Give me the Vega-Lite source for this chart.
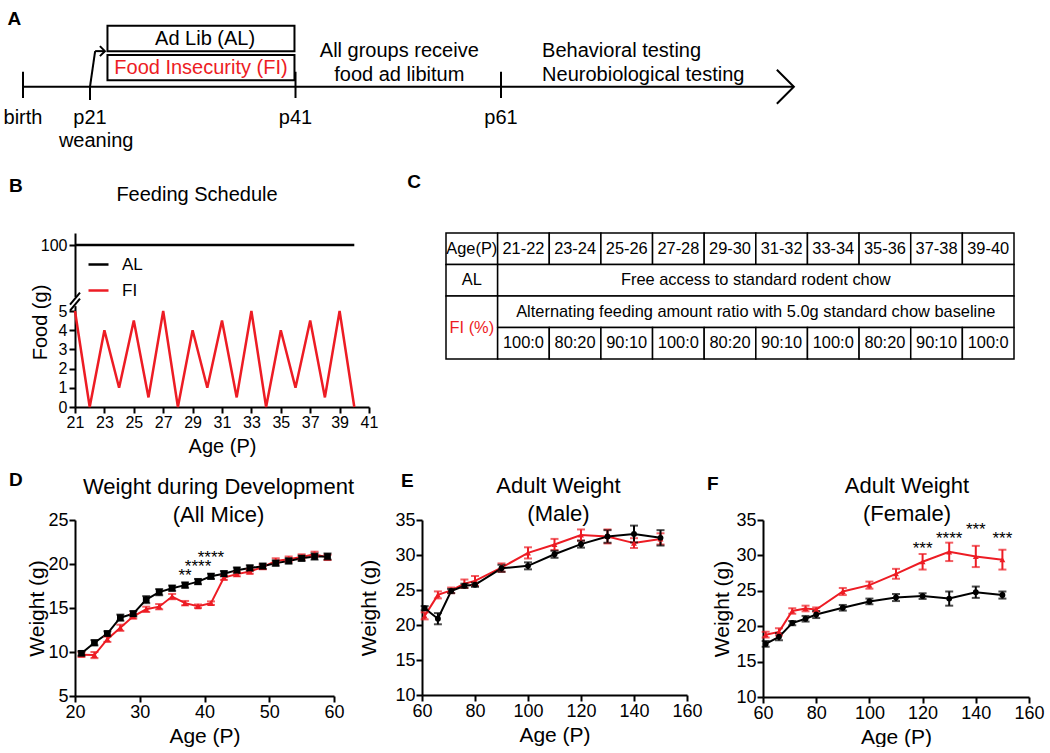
{
"$schema":"https://vega.github.io/schema/vega-lite/v6.json",
"padding":{"left":3,"top":8,"right":0,"bottom":0},
"background":"white",
"config":{
 "font":"Liberation Sans",
 "view":{"stroke":null},
 "axis":{"domainColor":"#000","domainWidth":2,"tickColor":"#000","tickWidth":2,"tickSize":6,"labelColor":"#000","titleColor":"#000","labelFontSize":18,"titleFontSize":21,"titleFontWeight":"normal","grid":false,"labelPadding":1,"titlePadding":0,"labelFont":"Liberation Sans","titleFont":"Liberation Sans","labelFlush":false,"labelOverlap":false},
 "title":{"fontSize":22,"fontWeight":"normal","color":"#000","font":"Liberation Sans"},
 "text":{"font":"Liberation Sans","color":"#000"}
},
"resolve":{"scale":{"color":"independent","shape":"independent"},"legend":{"color":"independent","shape":"independent"}},
"datasets":{
 "feeding":[
  {"day":21,"food":100,"group":"AL"},{"day":40,"food":100,"group":"AL"},
  {"day":21,"food":5,"group":"FI"},{"day":22,"food":0,"group":"FI"},{"day":23,"food":4,"group":"FI"},{"day":24,"food":1,"group":"FI"},{"day":25,"food":4.5,"group":"FI"},{"day":26,"food":0.5,"group":"FI"},{"day":27,"food":5,"group":"FI"},{"day":28,"food":0,"group":"FI"},{"day":29,"food":4,"group":"FI"},{"day":30,"food":1,"group":"FI"},{"day":31,"food":4.5,"group":"FI"},{"day":32,"food":0.5,"group":"FI"},{"day":33,"food":5,"group":"FI"},{"day":34,"food":0,"group":"FI"},{"day":35,"food":4,"group":"FI"},{"day":36,"food":1,"group":"FI"},{"day":37,"food":4.5,"group":"FI"},{"day":38,"food":0.5,"group":"FI"},{"day":39,"food":5,"group":"FI"},{"day":40,"food":0,"group":"FI"}
 ],
 "ticksA":[{"age":0,"label":"birth"},{"age":21,"label":"p21"},{"age":41,"label":"p41"},{"age":61,"label":"p61"}],
 "table":[
  {"c0":0,"c1":1,"r0":0,"r1":1,"text":"Age(P)","kind":"std"},
  {"c0":1,"c1":2,"r0":0,"r1":1,"text":"21-22","kind":"std"},
  {"c0":2,"c1":3,"r0":0,"r1":1,"text":"23-24","kind":"std"},
  {"c0":3,"c1":4,"r0":0,"r1":1,"text":"25-26","kind":"std"},
  {"c0":4,"c1":5,"r0":0,"r1":1,"text":"27-28","kind":"std"},
  {"c0":5,"c1":6,"r0":0,"r1":1,"text":"29-30","kind":"std"},
  {"c0":6,"c1":7,"r0":0,"r1":1,"text":"31-32","kind":"std"},
  {"c0":7,"c1":8,"r0":0,"r1":1,"text":"33-34","kind":"std"},
  {"c0":8,"c1":9,"r0":0,"r1":1,"text":"35-36","kind":"std"},
  {"c0":9,"c1":10,"r0":0,"r1":1,"text":"37-38","kind":"std"},
  {"c0":10,"c1":11,"r0":0,"r1":1,"text":"39-40","kind":"std"},
  {"c0":0,"c1":1,"r0":1,"r1":2,"text":"AL","kind":"std"},
  {"c0":1,"c1":11,"r0":1,"r1":2,"text":"Free access to standard rodent chow","kind":"std"},
  {"c0":0,"c1":1,"r0":2,"r1":4,"text":"FI (%)","kind":"FI"},
  {"c0":1,"c1":11,"r0":2,"r1":3,"text":"Alternating feeding amount ratio with 5.0g standard chow baseline","kind":"std"},
  {"c0":1,"c1":2,"r0":3,"r1":4,"text":"100:0","kind":"std"},
  {"c0":2,"c1":3,"r0":3,"r1":4,"text":"80:20","kind":"std"},
  {"c0":3,"c1":4,"r0":3,"r1":4,"text":"90:10","kind":"std"},
  {"c0":4,"c1":5,"r0":3,"r1":4,"text":"100:0","kind":"std"},
  {"c0":5,"c1":6,"r0":3,"r1":4,"text":"80:20","kind":"std"},
  {"c0":6,"c1":7,"r0":3,"r1":4,"text":"90:10","kind":"std"},
  {"c0":7,"c1":8,"r0":3,"r1":4,"text":"100:0","kind":"std"},
  {"c0":8,"c1":9,"r0":3,"r1":4,"text":"80:20","kind":"std"},
  {"c0":9,"c1":10,"r0":3,"r1":4,"text":"90:10","kind":"std"},
  {"c0":10,"c1":11,"r0":3,"r1":4,"text":"100:0","kind":"std"}
 ],
 "devel":[
  {"age":21,"group":"FI","w":9.7,"sem":0.25},{"age":23,"group":"FI","w":9.65,"sem":0.35},{"age":25,"group":"FI","w":11.45,"sem":0.3},{"age":27,"group":"FI","w":12.75,"sem":0.35},{"age":29,"group":"FI","w":14.05,"sem":0.25},{"age":31,"group":"FI","w":14.85,"sem":0.3},{"age":33,"group":"FI","w":15.15,"sem":0.3},{"age":35,"group":"FI","w":16.3,"sem":0.3},{"age":37,"group":"FI","w":15.55,"sem":0.25},{"age":39,"group":"FI","w":15.2,"sem":0.2},{"age":41,"group":"FI","w":15.55,"sem":0.2},{"age":43,"group":"FI","w":18.45,"sem":0.25},{"age":45,"group":"FI","w":18.85,"sem":0.25},{"age":47,"group":"FI","w":19.15,"sem":0.25},{"age":49,"group":"FI","w":19.65,"sem":0.25},{"age":51,"group":"FI","w":20.35,"sem":0.3},{"age":53,"group":"FI","w":20.55,"sem":0.3},{"age":55,"group":"FI","w":20.8,"sem":0.3},{"age":57,"group":"FI","w":21.1,"sem":0.3},{"age":59,"group":"FI","w":20.75,"sem":0.3},
  {"age":21,"group":"AL","w":9.85,"sem":0.25},{"age":23,"group":"AL","w":11.05,"sem":0.3},{"age":25,"group":"AL","w":12.1,"sem":0.25},{"age":27,"group":"AL","w":13.9,"sem":0.35},{"age":29,"group":"AL","w":14.35,"sem":0.3},{"age":31,"group":"AL","w":15.95,"sem":0.4},{"age":33,"group":"AL","w":16.8,"sem":0.35},{"age":35,"group":"AL","w":17.25,"sem":0.3},{"age":37,"group":"AL","w":17.6,"sem":0.3},{"age":39,"group":"AL","w":18.0,"sem":0.3},{"age":41,"group":"AL","w":18.6,"sem":0.3},{"age":43,"group":"AL","w":18.9,"sem":0.3},{"age":45,"group":"AL","w":19.3,"sem":0.3},{"age":47,"group":"AL","w":19.55,"sem":0.3},{"age":49,"group":"AL","w":19.75,"sem":0.3},{"age":51,"group":"AL","w":20.1,"sem":0.3},{"age":53,"group":"AL","w":20.35,"sem":0.3},{"age":55,"group":"AL","w":20.65,"sem":0.3},{"age":57,"group":"AL","w":20.85,"sem":0.35},{"age":59,"group":"AL","w":20.85,"sem":0.35}
 ],
 "male":[
  {"age":61,"group":"FI","w":21.3,"sem":0.5},{"age":66,"group":"FI","w":24.3,"sem":0.5},{"age":71,"group":"FI","w":24.95,"sem":0.4},{"age":76,"group":"FI","w":25.9,"sem":0.6},{"age":80,"group":"FI","w":26.3,"sem":0.7},{"age":90,"group":"FI","w":28.2,"sem":0.6},{"age":100,"group":"FI","w":30.3,"sem":0.8},{"age":110,"group":"FI","w":31.5,"sem":0.8},{"age":120,"group":"FI","w":32.85,"sem":0.8},{"age":130,"group":"FI","w":32.65,"sem":1.0},{"age":140,"group":"FI","w":31.7,"sem":0.7},{"age":150,"group":"FI","w":32.3,"sem":0.8},
  {"age":61,"group":"AL","w":22.4,"sem":0.3},{"age":66,"group":"AL","w":20.9,"sem":0.8},{"age":71,"group":"AL","w":24.85,"sem":0.3},{"age":76,"group":"AL","w":25.6,"sem":0.3},{"age":80,"group":"AL","w":25.75,"sem":0.3},{"age":90,"group":"AL","w":28.1,"sem":0.5},{"age":100,"group":"AL","w":28.45,"sem":0.5},{"age":110,"group":"AL","w":30.1,"sem":0.5},{"age":120,"group":"AL","w":31.55,"sem":0.5},{"age":130,"group":"AL","w":32.65,"sem":0.9},{"age":140,"group":"AL","w":33.0,"sem":1.2},{"age":150,"group":"AL","w":32.45,"sem":1.1}
 ],
 "female":[
  {"age":61,"group":"FI","w":18.8,"sem":0.4},{"age":66,"group":"FI","w":19.2,"sem":0.5},{"age":71,"group":"FI","w":22.15,"sem":0.4},{"age":76,"group":"FI","w":22.5,"sem":0.4},{"age":80,"group":"FI","w":22.35,"sem":0.3},{"age":90,"group":"FI","w":24.9,"sem":0.5},{"age":100,"group":"FI","w":25.8,"sem":0.5},{"age":110,"group":"FI","w":27.4,"sem":0.7},{"age":120,"group":"FI","w":29.1,"sem":1.1},{"age":130,"group":"FI","w":30.5,"sem":1.3},{"age":140,"group":"FI","w":29.85,"sem":1.5},{"age":150,"group":"FI","w":29.4,"sem":1.4},
  {"age":61,"group":"AL","w":17.5,"sem":0.4},{"age":66,"group":"AL","w":18.5,"sem":0.5},{"age":71,"group":"AL","w":20.45,"sem":0.3},{"age":76,"group":"AL","w":21.05,"sem":0.4},{"age":80,"group":"AL","w":21.65,"sem":0.5},{"age":90,"group":"AL","w":22.6,"sem":0.4},{"age":100,"group":"AL","w":23.5,"sem":0.4},{"age":110,"group":"AL","w":24.05,"sem":0.5},{"age":120,"group":"AL","w":24.25,"sem":0.4},{"age":130,"group":"AL","w":23.9,"sem":1.0},{"age":140,"group":"AL","w":24.8,"sem":0.8},{"age":150,"group":"AL","w":24.4,"sem":0.5}
 ],
 "starsD":[{"age":37,"w":19.26,"label":"**"},{"age":39,"w":20.25,"label":"****"},{"age":41,"w":21.3,"label":"****"}],
 "starsF":[{"age":120,"w":31.6,"label":"***"},{"age":130,"w":33.0,"label":"****"},{"age":140,"w":34.3,"label":"***"},{"age":150,"w":33.0,"label":"***"}]
},
"spacing":15,
"vconcat":[
 {
  "title":{"text":"A","anchor":"start","frame":"bounds","fontSize":19,"fontWeight":"bold","offset":-21,"dx":4},
  "width":724,"height":150,
  "data":{"values":[{}]},
  "layer":[
   {"mark":{"type":"rule","strokeWidth":2,"color":"#000"},
    "encoding":{"x":{"datum":0,"type":"quantitative","scale":{"domain":[0,21,89.5],"range":[-52,15,724]},"axis":null},"x2":{"datum":89.5},"y":{"datum":84,"type":"quantitative","scale":{"domain":[0,150],"range":[0,150]},"axis":null}}},
   {"data":{"name":"ticksA"},"transform":[{"filter":"datum.age != 21"}],"mark":{"type":"rule","strokeWidth":2,"color":"#000"},
    "encoding":{"x":{"field":"age","type":"quantitative"},"y":{"datum":68,"type":"quantitative"},"y2":{"datum":96}}},
   {"data":{"name":"ticksA"},"transform":[{"filter":"datum.age == 21"}],"mark":{"type":"rule","strokeWidth":2,"color":"#000"},
    "encoding":{"x":{"field":"age","type":"quantitative"},"y":{"datum":84,"type":"quantitative"},"y2":{"datum":98}}},
   {"mark":{"type":"rule","strokeWidth":2,"color":"#000"},
    "encoding":{"x":{"datum":21,"type":"quantitative"},"x2":{"datum":21.5},"y":{"datum":84,"type":"quantitative"},"y2":{"datum":46}}},
   {"mark":{"type":"rule","strokeWidth":2,"color":"#000"},
    "encoding":{"x":{"datum":21.5,"type":"quantitative"},"x2":{"datum":22.45},"y":{"datum":46,"type":"quantitative"}}},
   {"mark":{"type":"point","shape":"M-1,-1L0,0L-1,1","filled":false,"stroke":"#000","strokeWidth":2,"size":100,"opacity":1},
    "encoding":{"x":{"datum":22.45,"type":"quantitative"},"y":{"datum":46,"type":"quantitative"}}},
   {"mark":{"type":"point","shape":"M-1,-1L0,0L-1,1","filled":false,"stroke":"#000","strokeWidth":2,"size":1156,"opacity":1},
    "encoding":{"x":{"datum":89.5,"type":"quantitative"},"y":{"datum":84,"type":"quantitative"}}},
   {"mark":{"type":"rect","fillOpacity":0,"stroke":"#000","strokeWidth":2},
    "encoding":{"x":{"datum":22.7,"type":"quantitative"},"x2":{"datum":40.9},"y":{"datum":19,"type":"quantitative"},"y2":{"datum":46}}},
   {"mark":{"type":"rect","fillOpacity":0,"stroke":"#000","strokeWidth":2},
    "encoding":{"x":{"datum":22.7,"type":"quantitative"},"x2":{"datum":40.9},"y":{"datum":50,"type":"quantitative"},"y2":{"datum":77}}},
   {"data":{"values":[{"age":32.2,"text":"Ad Lib (AL)"}]},"mark":{"type":"text","fontSize":20,"baseline":"middle"},
    "encoding":{"x":{"field":"age","type":"quantitative"},"y":{"datum":33,"type":"quantitative"},"text":{"field":"text"}}},
   {"data":{"values":[{"age":31.8,"text":"Food Insecurity (FI)"}]},"mark":{"type":"text","fontSize":20,"baseline":"middle","color":"#ed1c24"},
    "encoding":{"x":{"field":"age","type":"quantitative"},"y":{"datum":64,"type":"quantitative"},"text":{"field":"text"}}},
   {"data":{"values":[{"age":51.1,"text":"All groups receive"}]},"mark":{"type":"text","fontSize":20,"baseline":"middle"},
    "encoding":{"x":{"field":"age","type":"quantitative"},"y":{"datum":46,"type":"quantitative"},"text":{"field":"text"}}},
   {"data":{"values":[{"age":51.1,"text":"food ad libitum"}]},"mark":{"type":"text","fontSize":20,"baseline":"middle"},
    "encoding":{"x":{"field":"age","type":"quantitative"},"y":{"datum":71,"type":"quantitative"},"text":{"field":"text"}}},
   {"data":{"values":[{"age":65,"text":"Behavioral testing"}]},"mark":{"type":"text","fontSize":20,"baseline":"middle","align":"left"},
    "encoding":{"x":{"field":"age","type":"quantitative"},"y":{"datum":46,"type":"quantitative"},"text":{"field":"text"}}},
   {"data":{"values":[{"age":65,"text":"Neurobiological testing"}]},"mark":{"type":"text","fontSize":20,"baseline":"middle","align":"left"},
    "encoding":{"x":{"field":"age","type":"quantitative"},"y":{"datum":71,"type":"quantitative"},"text":{"field":"text"}}},
   {"data":{"name":"ticksA"},"mark":{"type":"text","fontSize":20,"baseline":"middle"},
    "encoding":{"x":{"field":"age","type":"quantitative"},"y":{"datum":117,"type":"quantitative"},"text":{"field":"label"}}},
   {"data":{"values":[{"age":21.6,"text":"weaning"}]},"mark":{"type":"text","fontSize":20,"baseline":"middle"},
    "encoding":{"x":{"field":"age","type":"quantitative"},"y":{"datum":142,"type":"quantitative"},"text":{"field":"text"}}}
  ]
 },
 {
  "spacing":29,
  "resolve":{"scale":{"color":"independent","shape":"independent"},"legend":{"color":"independent","shape":"independent"}},
  "hconcat":[
   {
    "title":{"text":"B","anchor":"start","frame":"bounds","fontSize":19,"fontWeight":"bold","offset":-11,"dx":-21},
    "vconcat":[{
     "title":{"text":"Feeding Schedule","fontSize":20,"offset":28,"dx":-25},
     "width":294,"height":174,
     "data":{"values":[{}]},
     "layer":[
      {"data":{"name":"feeding"},"mark":{"type":"line","strokeWidth":2.5},
       "encoding":{
        "x":{"field":"day","type":"quantitative","scale":{"domain":[21,41],"nice":false},"axis":{"values":[21,23,25,27,29,31,33,35,37,39,41],"title":"Age (P)","labelFontSize":16,"titleFontSize":20,"labelPadding":1,"titlePadding":6,"labelOverlap":false}},
        "y":{"field":"food","type":"quantitative","scale":{"domain":[0,5,100,102],"range":[174,78,12,0]},"axis":{"values":[0,1,2,3,4,5,100],"title":"Food (g)","labelFontSize":16,"titleFontSize":20,"labelPadding":2,"titleX":-25,"titleY":89,"labelOverlap":false}},
        "color":{"field":"group","type":"nominal","scale":{"domain":["AL","FI"],"range":["#000000","#ed1c24"]},"legend":{"orient":"none","legendX":12,"legendY":20,"title":null,"symbolType":"stroke","symbolSize":400,"symbolStrokeWidth":2.5,"labelFontSize":17,"rowPadding":6,"labelOffset":12,"padding":0,"labelColor":"#000"}}
       }},
      {"mark":{"type":"rule","strokeWidth":6,"color":"white"},
       "encoding":{
        "x":{"datum":21,"type":"quantitative","axis":{"values":[21,23,25,27,29,31,33,35,37,39,41],"title":"Age (P)","labelFontSize":16,"titleFontSize":20,"labelPadding":1,"titlePadding":6,"labelOverlap":false}},
        "y":{"datum":12,"type":"quantitative","axis":{"values":[0,1,2,3,4,5,100],"title":"Food (g)","labelFontSize":16,"titleFontSize":20,"labelPadding":2,"titleX":-25,"titleY":89,"labelOverlap":false}},
        "y2":{"datum":25}}},
      {"mark":{"type":"rule","strokeWidth":2,"color":"#000"},
       "encoding":{
        "x":{"datum":20.66,"type":"quantitative","axis":{"values":[21,23,25,27,29,31,33,35,37,39,41],"title":"Age (P)","labelFontSize":16,"titleFontSize":20,"labelPadding":1,"titlePadding":6,"labelOverlap":false}},
        "x2":{"datum":21.34},
        "y":{"datum":14.2,"type":"quantitative","axis":{"values":[0,1,2,3,4,5,100],"title":"Food (g)","labelFontSize":16,"titleFontSize":20,"labelPadding":2,"titleX":-25,"titleY":89,"labelOverlap":false}},
        "y2":{"datum":31.5}}},
      {"mark":{"type":"rule","strokeWidth":2,"color":"#000"},
       "encoding":{
        "x":{"datum":20.66,"type":"quantitative","axis":{"values":[21,23,25,27,29,31,33,35,37,39,41],"title":"Age (P)","labelFontSize":16,"titleFontSize":20,"labelPadding":1,"titlePadding":6,"labelOverlap":false}},
        "x2":{"datum":21.34},
        "y":{"datum":5.5,"type":"quantitative","axis":{"values":[0,1,2,3,4,5,100],"title":"Food (g)","labelFontSize":16,"titleFontSize":20,"labelPadding":2,"titleX":-25,"titleY":89,"labelOverlap":false}},
        "y2":{"datum":22.8}}}
     ]
    }]
   },
   {
    "title":{"text":"C","anchor":"start","frame":"bounds","fontSize":19,"fontWeight":"bold","offset":40,"dx":-38},
    "width":568,"height":126,
    "data":{"name":"table"},
    "layer":[
     {"mark":{"type":"rect","fill":"white","stroke":"#000","strokeWidth":1.5},
      "encoding":{"x":{"field":"c0","type":"quantitative","scale":{"domain":[0,11]},"axis":null},"x2":{"field":"c1"},"y":{"field":"r0","type":"quantitative","scale":{"domain":[0,4],"range":[0,126]},"axis":null},"y2":{"field":"r1"}}},
     {"transform":[
       {"fold":["c0","c1"],"as":["ck","cx"]},
       {"fold":["r0","r1"],"as":["rk","cy"]},
       {"aggregate":[{"op":"mean","field":"cx","as":"mx"},{"op":"mean","field":"cy","as":"my"}],"groupby":["text","kind","c0","r0"]}
      ],
      "mark":{"type":"text","fontSize":16.4,"baseline":"middle"},
      "encoding":{"x":{"field":"mx","type":"quantitative"},"y":{"field":"my","type":"quantitative"},"text":{"field":"text"},
       "color":{"field":"kind","type":"nominal","scale":{"domain":["std","FI"],"range":["#000000","#ed1c24"]},"legend":null}}}
    ]
   }
  ]
 },
 {
  "spacing":3,
  "resolve":{"scale":{"color":"independent","shape":"independent"},"legend":{"color":"independent","shape":"independent"}},
  "hconcat":[
   {
    "title":{"text":"D","anchor":"start","frame":"bounds","fontSize":19,"fontWeight":"bold","offset":-14,"dx":-18},
    "vconcat":[{
     "title":{"text":["Weight during Development","(All Mice)"],"fontSize":22,"lineHeight":28,"offset":-16,"dx":14},
     "width":259,"height":176,
     "data":{"name":"devel"},
     "encoding":{
      "x":{"field":"age","type":"quantitative","scale":{"domain":[20,60],"nice":false},"axis":{"values":[20,30,40,50,60],"title":"Age (P)","titlePadding":4}},
      "y":{"field":"w","type":"quantitative","scale":{"domain":[5,25],"nice":false},"axis":{"values":[5,10,15,20,25],"title":"Weight (g)"}},
      "color":{"field":"group","type":"nominal","scale":{"domain":["AL","FI"],"range":["#000000","#ed1c24"]},"legend":null}
     },
     "layer":[
      {"mark":{"type":"line","strokeWidth":2}},
      {"mark":{"type":"errorbar","thickness":2,"ticks":{"size":8,"thickness":2}},"encoding":{"yError":{"field":"sem"}}},
      {"mark":{"type":"point","filled":true,"opacity":1,"size":45},"encoding":{"shape":{"field":"group","type":"nominal","scale":{"domain":["AL","FI"],"range":["square","triangle-up"]},"legend":null}}},
      {"data":{"name":"starsD"},"mark":{"type":"text","fontSize":17,"baseline":"alphabetic","dy":10},"encoding":{"text":{"field":"label"},"color":{"value":"#000"}}}
     ]
    }]
   },
   {
    "title":{"text":"E","anchor":"start","frame":"bounds","fontSize":19,"fontWeight":"bold","offset":-16,"dx":42},
    "vconcat":[{
     "title":{"text":["Adult Weight","(Male)"],"fontSize":22,"lineHeight":28,"offset":-15,"dx":4},
     "width":265,"height":175,
     "data":{"name":"male"},
     "encoding":{
      "x":{"field":"age","type":"quantitative","scale":{"domain":[60,160],"nice":false},"axis":{"values":[60,80,100,120,140,160],"title":"Age (P)","titlePadding":4}},
      "y":{"field":"w","type":"quantitative","scale":{"domain":[10,35],"nice":false},"axis":{"values":[10,15,20,25,30,35],"title":"Weight (g)","titlePadding":15}},
      "color":{"field":"group","type":"nominal","scale":{"domain":["AL","FI"],"range":["#000000","#ed1c24"]},"legend":null}
     },
     "layer":[
      {"mark":{"type":"line","strokeWidth":2}},
      {"mark":{"type":"errorbar","thickness":2,"ticks":{"size":8,"thickness":2}},"encoding":{"yError":{"field":"sem"}}},
      {"mark":{"type":"point","filled":true,"opacity":1,"size":35},"encoding":{"shape":{"field":"group","type":"nominal","scale":{"domain":["AL","FI"],"range":["circle","triangle-up"]},"legend":null}}}
     ]
    }]
   },
   {
    "title":{"text":"F","anchor":"start","frame":"bounds","fontSize":19,"fontWeight":"bold","offset":-19,"dx":-5},
    "vconcat":[{
     "title":{"text":["Adult Weight","(Female)"],"fontSize":22,"lineHeight":28,"offset":-15,"dx":11},
     "width":266,"height":177,
     "data":{"name":"female"},
     "encoding":{
      "x":{"field":"age","type":"quantitative","scale":{"domain":[60,160],"nice":false},"axis":{"values":[60,80,100,120,140,160],"title":"Age (P)","titlePadding":4}},
      "y":{"field":"w","type":"quantitative","scale":{"domain":[10,35],"nice":false},"axis":{"values":[10,15,20,25,30,35],"title":"Weight (g)","titlePadding":3}},
      "color":{"field":"group","type":"nominal","scale":{"domain":["AL","FI"],"range":["#000000","#ed1c24"]},"legend":null}
     },
     "layer":[
      {"mark":{"type":"line","strokeWidth":2}},
      {"mark":{"type":"errorbar","thickness":2,"ticks":{"size":8,"thickness":2}},"encoding":{"yError":{"field":"sem"}}},
      {"mark":{"type":"point","filled":true,"opacity":1,"size":35},"encoding":{"shape":{"field":"group","type":"nominal","scale":{"domain":["AL","FI"],"range":["circle","triangle-up"]},"legend":null}}},
      {"data":{"name":"starsF"},"mark":{"type":"text","fontSize":17,"baseline":"alphabetic","dy":10},"encoding":{"text":{"field":"label"},"color":{"value":"#000"}}}
     ]
    }]
   }
  ]
 }
]
}
